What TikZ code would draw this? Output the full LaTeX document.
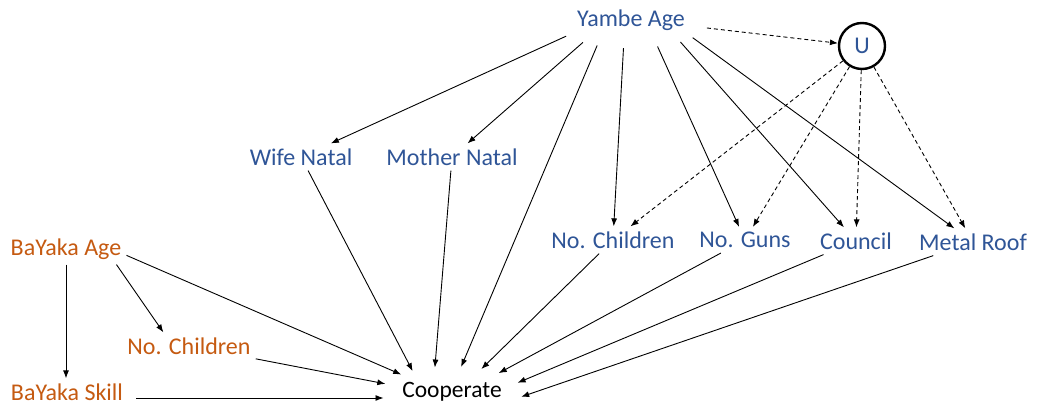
\documentclass[tikz,border=0pt]{standalone}
\usepackage{fontspec}
\setmainfont{Carlito}
\usetikzlibrary{arrows.meta,shapes.geometric}
\definecolor{yblue}{HTML}{2F5597}
\definecolor{borange}{HTML}{C55A11}
\begin{document}
\begin{tikzpicture}[x=1pt,y=-1pt,
  every node/.style={font=\fontsize{24}{28}\selectfont, inner sep=5pt},
  yb/.style={text=yblue},
  bo/.style={text=borange},
  arr/.style={line width=0.9pt, -{Latex[length=8pt,width=6pt]}},
  darr/.style={arr, dash pattern=on 4pt off 3pt},
  latent/.style={circle, draw, line width=2.4pt, minimum size=46pt, inner sep=0pt, text=yblue}]
\useasboundingbox (0,0) rectangle (1037,406);
\node[yb, ellipse, minimum width=158pt, minimum height=56pt, inner sep=0pt] (ya) at (631,20) {Yambe Age};
\node[latent] (u) at (862,46) {U};
\node[yb] (wn) at (301,157) {Wife Natal};
\node[yb] (mn) at (452,157) {Mother Natal};
\node[yb] (nc) at (613,240) {No. Children};
\node[yb] (ng) at (745,240) {No. Guns};
\node[yb] (co) at (856,241) {Council};
\node[yb] (mr) at (973,242) {Metal Roof};
\node[bo] (ba) at (66,249) {BaYaka Age};
\node[bo] (bc) at (189,346) {No. Children};
\node[bo] (bs) at (67,392) {BaYaka Skill};
\node[ellipse, minimum width=132pt, minimum height=50pt, inner sep=0pt, font=\fontsize{23.5}{28}\selectfont] (cp) at (452,392) {Cooperate};
% Yambe age edges
\draw[arr] (ya.194.7) -- (wn);
\draw[arr] (ya.205.6) -- (mn);
\draw[arr] (ya.217.4) -- (cp.70.8);
\draw[arr] (ya.255.5) -- (nc);
\draw[arr] (ya.315) -- (ng);
\draw[arr] (ya.336.4) -- (co);
\draw[arr] (ya.344.3) -- (mr);
\draw[darr] (ya.354.7) -- (u);
% U edges
\draw[darr] (u) -- (nc);
\draw[darr] (u) -- (ng);
\draw[darr] (u) -- (co);
\draw[darr] (u) -- (mr);
% to cooperate
\draw[arr] (wn) -- (cp.152.9);
\draw[arr] (mn) -- (cp.125.3);
\draw[arr] (nc) -- (cp.38.7);
\draw[arr] (ng) -- (cp.22.9);
\draw[arr] (co) -- (cp.8.1);
\draw[arr] (mr) -- (cp.-4.2);
\draw[arr] (ba.-6) -- (cp.161.9);
\draw[arr] (bc) -- (cp.173.2);
\draw[arr] ([xshift=8pt]cp.185.5 -| bs.east) -- (cp.185.5);
% BaYaka
\draw[arr] (ba.south) -- (ba.south |- bs.north);
\draw[arr] ([xshift=-10pt]ba.south east) -- (bc.152);
\end{tikzpicture}
\end{document}
